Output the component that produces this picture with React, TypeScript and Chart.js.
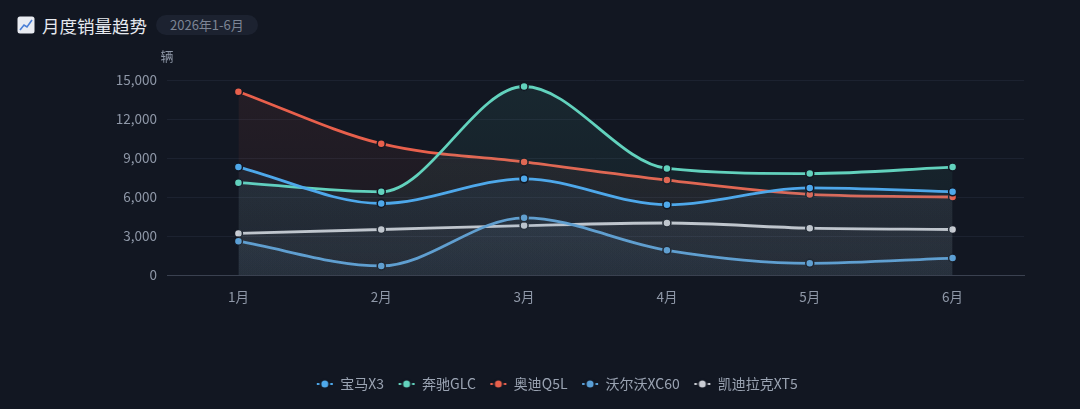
import React, { useRef, useEffect } from 'react';
import { Chart } from 'chart.js/auto';

const months = ['1月', '2月', '3月', '4月', '5月', '6月'];
const seriesNames = ['宝马X3', '奔驰GLC', '奥迪Q5L', '沃尔沃XC60', '凯迪拉克XT5'];
const seriesColors = ['#4ea8ea', '#62d2bd', '#e8604c', '#5a9fd6', '#c9ccd3'];
const bmwX3 = [8300, 5500, 7400, 5400, 6700, 6400];
const benzGLC = [7100, 6400, 14500, 8200, 7800, 8300];
const audiQ5L = [14100, 10100, 8700, 7300, 6200, 6000];
const volvoXC60 = [2600, 700, 4400, 1900, 900, 1300];
const cadillacXT5 = [3200, 3500, 3800, 4000, 3600, 3500];
const seriesValues = [bmwX3, benzGLC, audiQ5L, volvoXC60, cadillacXT5];
const yTicks = [0, 3000, 6000, 9000, 12000, 15000];

const BG = '#121722';
const FONT = '"Noto Sans CJK SC", "Noto Sans", sans-serif';

function hexA(hex: string, a: number) {
  const n = parseInt(hex.slice(1), 16);
  return `rgba(${(n >> 16) & 255}, ${(n >> 8) & 255}, ${n & 255}, ${a})`;
}

// legend icon: short line with a dot in the middle
function legendIcon(color: string) {
  const c = document.createElement('canvas');
  c.width = 18;
  c.height = 12;
  const g = c.getContext('2d')!;
  g.strokeStyle = color;
  g.lineWidth = 2;
  g.beginPath();
  g.moveTo(1, 6);
  g.lineTo(17, 6);
  g.stroke();
  g.beginPath();
  g.arc(9, 6, 4.5, 0, Math.PI * 2);
  g.fillStyle = color;
  g.fill();
  g.lineWidth = 2;
  g.strokeStyle = BG;
  g.stroke();
  return c;
}

const unitLabel = {
  id: 'unitLabel',
  afterDraw(chart: any) {
    const { ctx, chartArea } = chart;
    ctx.save();
    ctx.fillStyle = '#8f98a8';
    ctx.font = `13px ${FONT}`;
    ctx.textAlign = 'center';
    ctx.textBaseline = 'middle';
    ctx.fillText('辆', chartArea.left, chartArea.top - 24);
    ctx.restore();
  },
};

const TrendChart: React.FC = () => {
  const chartRef = useRef<HTMLCanvasElement>(null);
  const chartInstance = useRef<Chart | null>(null);

  useEffect(() => {
    if (!chartRef.current) return;
    if (chartInstance.current) chartInstance.current.destroy();
    const ctx = chartRef.current.getContext('2d');
    if (!ctx) return;

    const icons = seriesColors.map(legendIcon);

    chartInstance.current = new Chart(ctx, {
      type: 'line',
      data: {
        labels: months,
        datasets: seriesNames.map((name, i) => ({
          label: name,
          data: seriesValues[i],
          borderColor: seriesColors[i],
          borderWidth: 2.8,
          pointRadius: 4,
          pointBorderWidth: 1.5,
          pointBackgroundColor: seriesColors[i],
          pointBorderColor: BG,
          cubicInterpolationMode: 'monotone' as const,
          fill: 'origin',
          backgroundColor: (c: any) => {
            const area = c.chart.chartArea;
            if (!area) return hexA(seriesColors[i], 0.05);
            const g = c.chart.ctx.createLinearGradient(0, area.top, 0, area.bottom);
            g.addColorStop(0, hexA(seriesColors[i], 0.09));
            g.addColorStop(1, hexA(seriesColors[i], 0.04));
            return g;
          },
        })),
      },
      options: {
        responsive: true,
        maintainAspectRatio: false,
        animation: false,
        layout: { padding: { top: 80, right: 56, bottom: 8, left: 90 } },
        plugins: {
          tooltip: { enabled: false },
          legend: {
            position: 'bottom',
            labels: {
              color: '#9aa3b2',
              font: { size: 14, family: FONT },
              usePointStyle: true,
              pointStyleWidth: 17,
              padding: 14,
              generateLabels: (chart: any) =>
                Chart.defaults.plugins.legend.labels
                  .generateLabels(chart)
                  .map((item: any, i: number) => ({ ...item, pointStyle: icons[i], fontColor: '#9aa3b2' })),
            },
          },
        },
        scales: {
          x: {
            offset: true,
            grid: { display: false },
            border: { color: '#3a4150' },
            ticks: { color: '#8f98a8', font: { size: 13.5, family: FONT }, padding: 6 },
            afterFit: (s: any) => {
              s.height = 88;
            },
          },
          y: {
            min: 0,
            max: 15000,
            afterBuildTicks: (s: any) => {
              s.ticks = yTicks.map((v) => ({ value: v }));
            },
            grid: { color: '#1c2230', drawTicks: false },
            border: { display: false },
            ticks: {
              color: '#8f98a8',
              font: { size: 13.5, family: FONT },
              padding: 10,
              callback: (v: any) => Number(v).toLocaleString('en-US'),
            },
            afterFit: (s: any) => {
              s.width = 77;
            },
          },
        },
      },
      plugins: [unitLabel],
    });

    return () => {
      if (chartInstance.current) {
        chartInstance.current.destroy();
        chartInstance.current = null;
      }
    };
  }, []);

  return (
    <div style={{ position: 'fixed', inset: 0, background: BG, fontFamily: FONT }}>
      <div style={{ position: 'absolute', left: 17, top: 14, display: 'flex', alignItems: 'center', height: 22 }}>
        <svg width="18" height="18" viewBox="0 0 18 18" style={{ marginRight: 7 }}>
          <rect x="0.5" y="0.5" width="17" height="17" rx="2.5" fill="#e9ecf2" />
          <path d="M3 14 L7 9 L10 11 L15 4" stroke="#4a7fd6" strokeWidth="1.6" fill="none" />
        </svg>
        <span style={{ color: '#e6e9ef', fontSize: 17.5, marginRight: 9 }}>月度销量趋势</span>
        <span
          style={{
            color: '#7d8595',
            fontSize: 13,
            background: '#1c2230',
            borderRadius: 10,
            padding: '1px 14px',
            lineHeight: '18px',
          }}
        >
          2026年1-6月
        </span>
      </div>
      <div style={{ position: 'absolute', left: 0, top: 0, width: 1080, height: 409 }}>
        <canvas ref={chartRef} style={{ width: '100%', height: '100%' }} />
      </div>
    </div>
  );
};

export default function App() {
  return <TrendChart />;
}
